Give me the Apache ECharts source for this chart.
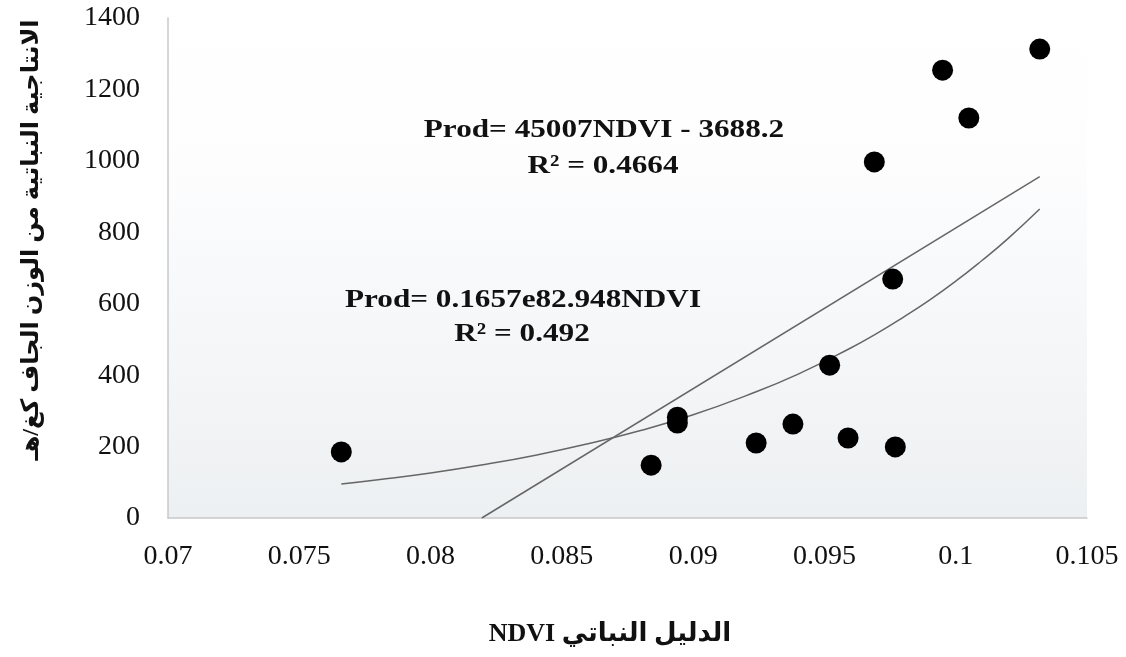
<!DOCTYPE html>
<html>
<head>
<meta charset="utf-8">
<script src="https://cdn.jsdelivr.net/npm/echarts@6/dist/echarts.min.js"></script>
<style>
html,body{margin:0;padding:0;background:#fff;}
#chart{width:1126px;height:657px;}
</style>
</head>
<body>
<div id="chart"></div>
<script>
// NDVI values (x) and productivity (y, kg/ha)
var ndvi = [0.0766, 0.0884, 0.0894, 0.0894, 0.0924, 0.0938, 0.0952, 0.0959, 0.0969, 0.0976, 0.0977, 0.0995, 0.1005, 0.1032];
var prod = [185, 148, 282, 266, 210, 263, 428, 224, 997, 669, 199, 1254, 1120, 1313];

// Linear trendline
var linX = [0.08195, 0.1032];
var linY = [0, 956];

// Exponential trendline
var expX = [0.0766, 0.078, 0.080, 0.082, 0.084, 0.086, 0.088, 0.090, 0.092, 0.094, 0.096, 0.097, 0.098, 0.099, 0.100, 0.101, 0.102, 0.1032];
var expY = [95, 107, 126, 149, 176, 208, 245, 289, 342, 403, 476, 517, 562, 610, 663, 721, 783, 865];

var xTicks = {min: 0.07, max: 0.105, step: 0.005};
var yTicks = {min: 0, max: 1400, step: 200};

var eqLinear = ['Prod= 45007NDVI - 3688.2', 'R² = 0.4664'];
var eqExp = ['Prod= 0.1657e82.948NDVI', 'R² = 0.492'];
var xTitle = 'NDVI الدليل النباتي';
var yTitle = 'الانتاجية النباتية من الوزن الجاف كغ/هـ';

function zip(a, b) { return a.map(function (v, i) { return [v, b[i]]; }); }

var serif = '"Liberation Serif", "DejaVu Serif", serif';
var arabicFont = '"Liberation Serif", "DejaVu Sans", "Noto Sans", sans-serif';

function label(text, x, y, size, sx) {
  return {
    type: 'text', x: x, y: y, scaleX: sx || 1,
    style: {text: text, font: 'bold ' + size + 'px ' + serif, fill: '#111', textAlign: 'center', textVerticalAlign: 'middle'}
  };
}

var chart = echarts.init(document.getElementById('chart'), null, {renderer: 'canvas'});
chart.setOption({
  animation: false,
  backgroundColor: '#ffffff',
  grid: {
    left: 168, right: 39, top: 18, bottom: 139,
    show: true,
    borderWidth: 0,
    backgroundColor: new echarts.graphic.LinearGradient(0, 0, 0, 1, [
      {offset: 0, color: '#ffffff'},
      {offset: 0.3, color: '#fdfdfe'},
      {offset: 1, color: '#edf0f2'}
    ])
  },
  xAxis: {
    type: 'value',
    min: xTicks.min, max: xTicks.max, interval: xTicks.step,
    axisLine: {show: true, lineStyle: {color: '#c8c8c8', width: 1.5}},
    axisTick: {show: false},
    splitLine: {show: false},
    axisLabel: {
      margin: 25,
      color: '#111',
      fontFamily: serif,
      fontSize: 28,
      formatter: function (v) { return String(parseFloat(v.toFixed(3))); }
    }
  },
  yAxis: {
    type: 'value',
    min: yTicks.min, max: yTicks.max, interval: yTicks.step,
    axisLine: {show: true, lineStyle: {color: '#c8c8c8', width: 1.5}},
    axisTick: {show: false},
    splitLine: {show: false},
    axisLabel: {
      margin: 28,
      color: '#111',
      fontFamily: serif,
      fontSize: 28,
      formatter: function (v) { return String(v); }
    }
  },
  series: [
    {
      type: 'line',
      data: zip(linX, linY),
      showSymbol: false,
      lineStyle: {color: '#666', width: 1.5},
      z: 2
    },
    {
      type: 'line',
      data: zip(expX, expY),
      smooth: true,
      showSymbol: false,
      lineStyle: {color: '#666', width: 1.5},
      z: 2
    },
    {
      type: 'scatter',
      data: zip(ndvi, prod),
      symbol: 'circle',
      symbolSize: 21,
      itemStyle: {color: '#000', opacity: 1},
      z: 3
    }
  ],
  graphic: [
    label(eqLinear[0], 604, 130, 26, 1.2),
    label(eqLinear[1], 603, 166, 26, 1.2),
    label(eqExp[0], 523, 300, 26, 1.2),
    label(eqExp[1], 522, 334, 26, 1.2),
    {type: 'text', x: 610, y: 634, style: {text: xTitle, font: 'bold 26px ' + arabicFont, fill: '#111', textAlign: 'center', textVerticalAlign: 'middle'}},
    {type: 'text', x: 32, y: 240, rotation: Math.PI / 2, style: {text: yTitle, font: 'bold 24px ' + arabicFont, fill: '#111', textAlign: 'center', textVerticalAlign: 'middle'}}
  ]
});
</script>
</body>
</html>
